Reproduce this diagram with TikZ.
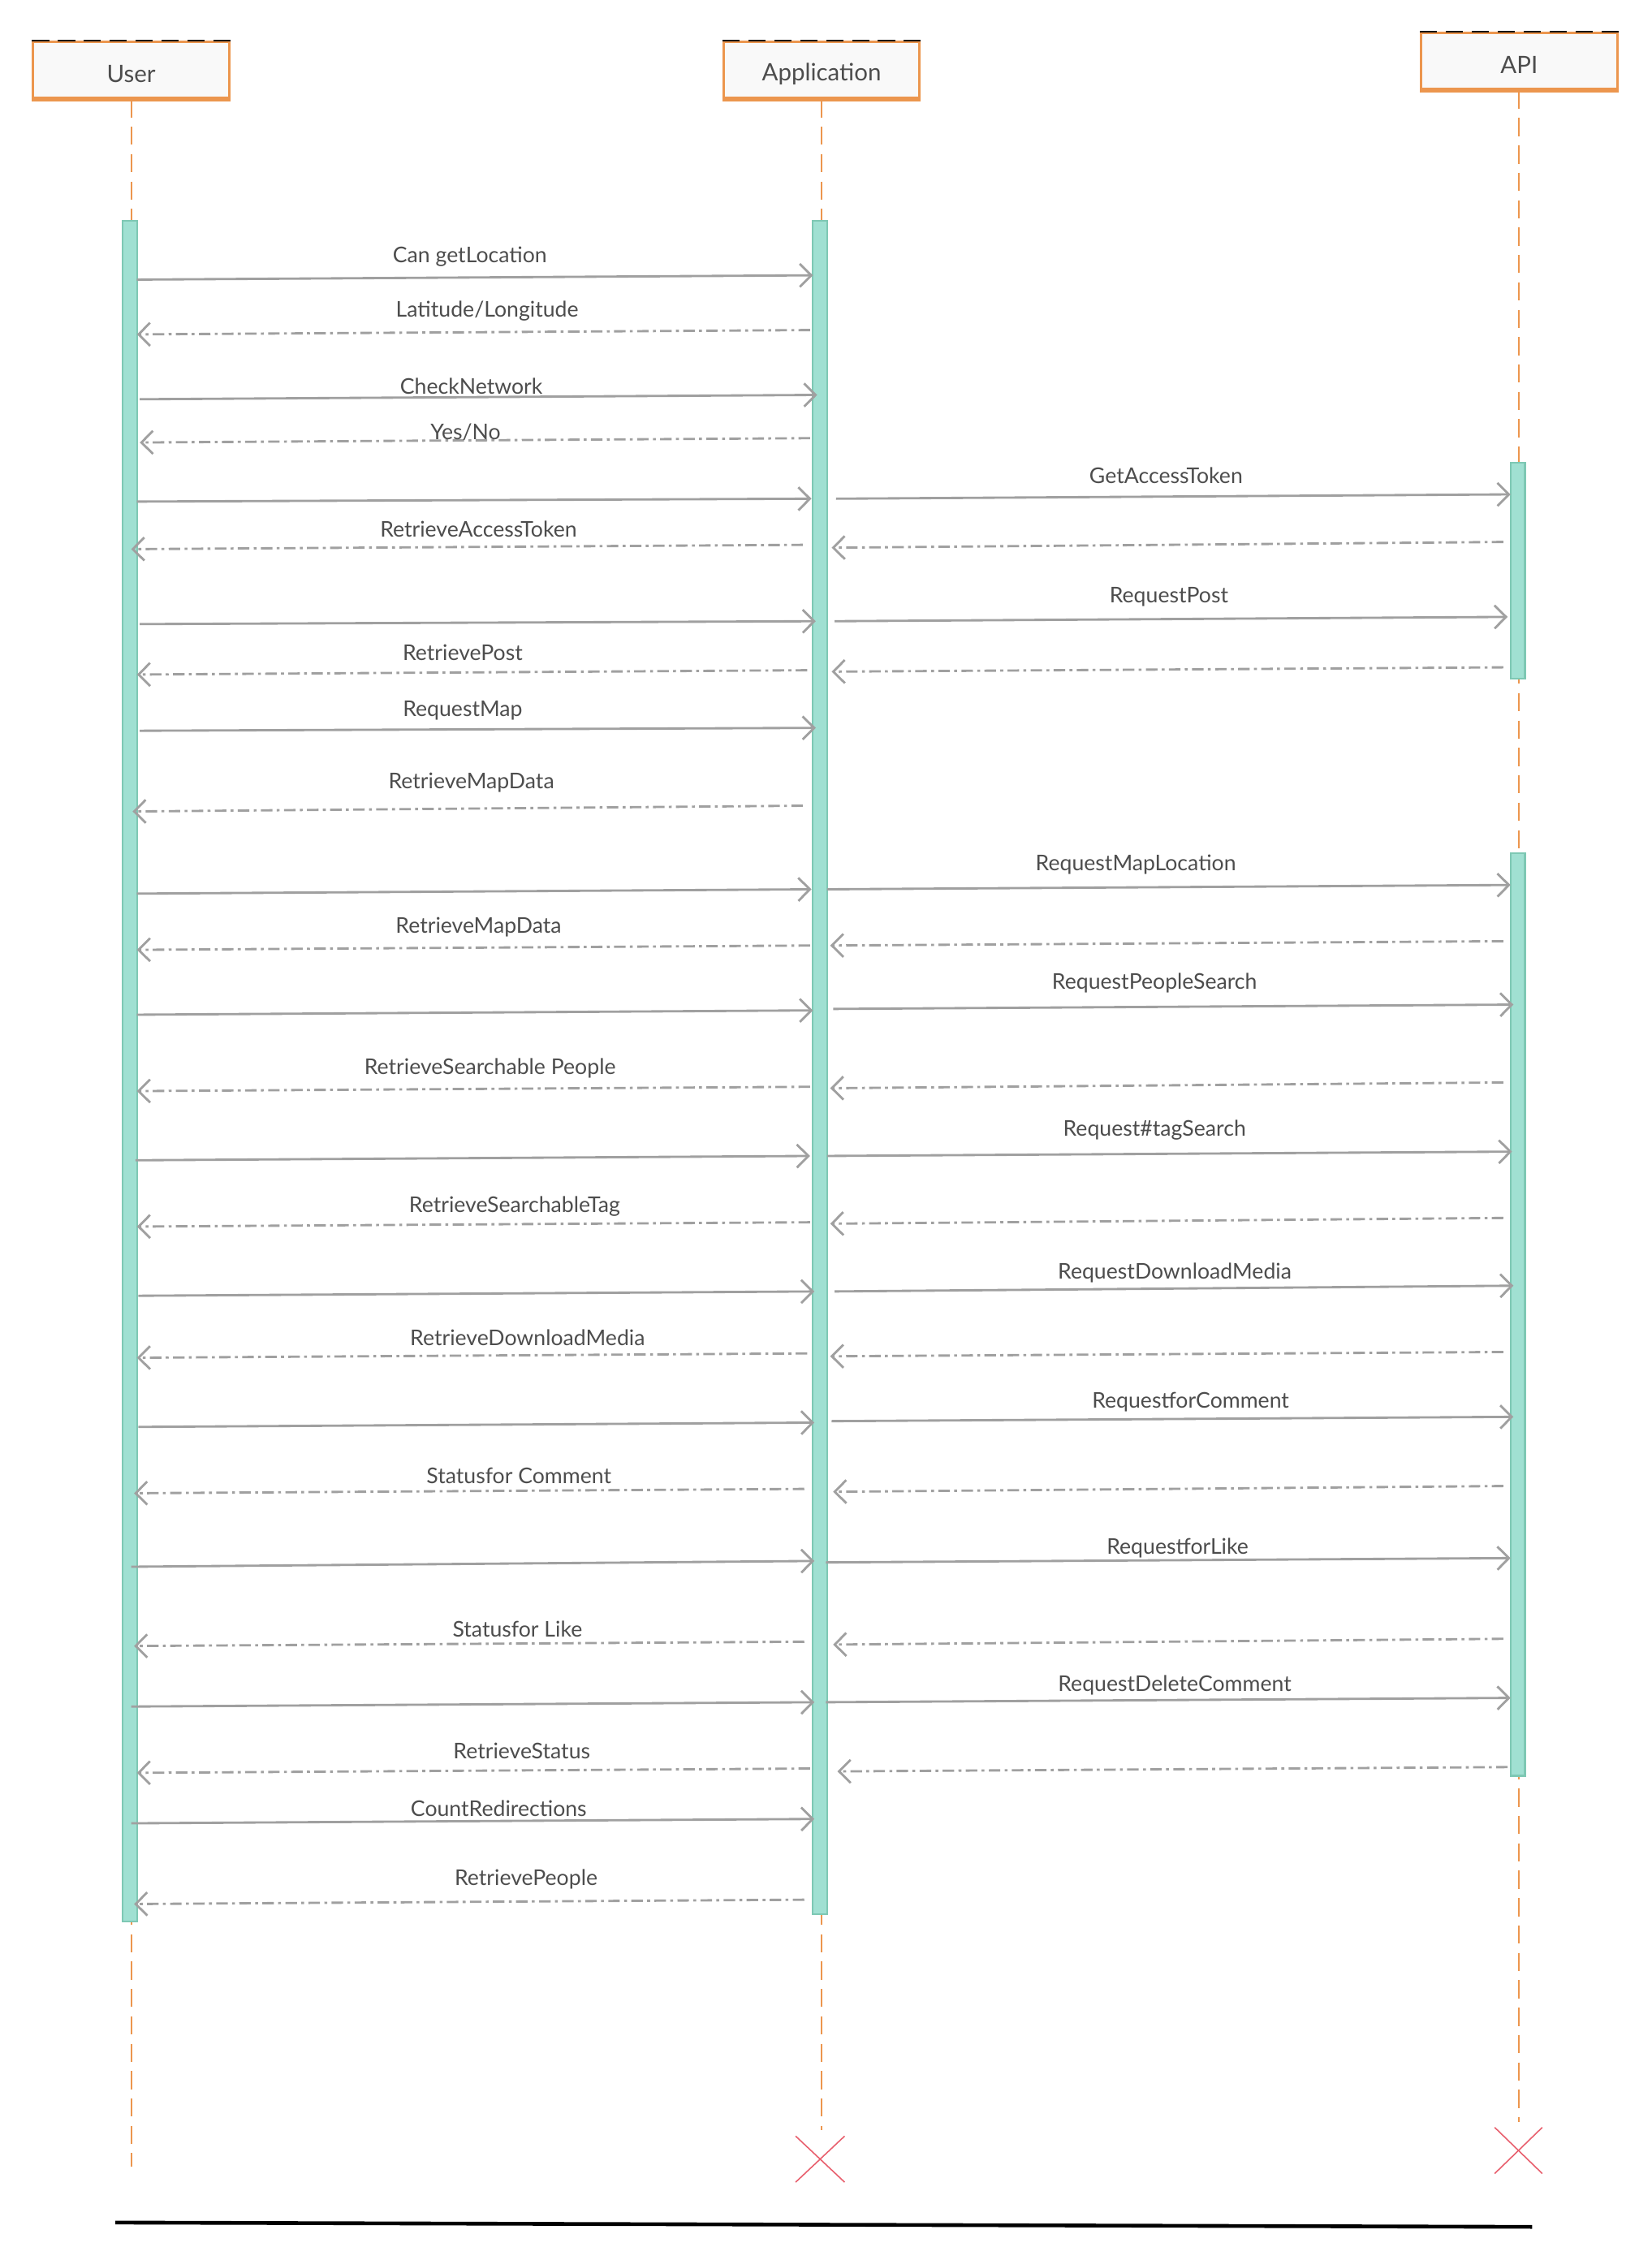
\documentclass[tikz,border=0pt]{standalone}
\usepackage{fontspec}
\setmainfont{Lato}
\usetikzlibrary{arrows.meta}
\definecolor{lifeor}{RGB}{236,150,78}
\definecolor{barfill}{RGB}{160,224,210}
\definecolor{barline}{RGB}{126,200,180}
\definecolor{msggray}{RGB}{160,160,160}
\definecolor{txtgray}{RGB}{77,77,77}
\definecolor{xred}{RGB}{232,96,110}
\definecolor{boxfill}{RGB}{249,249,249}
\newcommand{\seqmsg}[6]{\coordinate (#1s) at (#3,#4); \coordinate (#1e) at (#5,#6); \draw[#2] (#1s) -- (#1e);}
\newcommand{\actortext}[1]{\raisebox{-1.4pt}[\height][\depth]{#1}}
\begin{document}
\begin{tikzpicture}[x=0.5pt,y=-0.5pt,
 actor/.style={draw=lifeor, line width=0.9pt, fill=boxfill, minimum width=68pt, minimum height=19.5pt, inner sep=0pt, text=txtgray, font=\fontsize{8.3}{10}\selectfont},
 lifeline/.style={draw=lifeor, line width=0.6pt, dash pattern=on 6.3pt off 3.2pt},
 actbar/.style={fill=barfill, draw=barline, line width=0.6pt},
 callmsg/.style={draw=msggray, line width=0.8pt, -{Straight Barb[length=4pt,width=8pt]}},
 retmsg/.style={draw=msggray, line width=0.8pt, dash pattern=on 4pt off 1.5pt on 1pt off 1.5pt, -{Straight Barb[length=4pt,width=8pt]}},
 msglbl/.style={text=txtgray, font=\fontsize{7.5}{9}\selectfont, inner sep=0pt, yshift=-1pt},
 xmark/.style={draw=xred, line width=0.45pt},
 topdash/.style={draw=black, line width=0.6pt, dash pattern=on 6pt off 3pt},
 botedge/.style={draw=lifeor, line width=1.4pt},
]
\useasboundingbox (0,0) rectangle (1146,1568);

% actors
\node[actor] (uB) at (91,48.5) {\actortext{User}};
\node[actor] (aB) at (570,48.5) {\actortext{Application}};
\node[actor] (pB) at (1054,42.5) {\actortext{API}};
\foreach \b in {uB,aB,pB}{
  \draw[topdash] (\b.north west) -- (\b.north east);
  \draw[botedge] (\b.south west) -- (\b.south east);
}

% lifelines
\coordinate (uEnd) at (91,1503);
\coordinate (aEnd) at (570,1478);
\coordinate (pEnd) at (1054,1472);
\draw[lifeline] (uB.south) -- (uEnd);
\draw[lifeline] (aB.south) -- (aEnd);
\draw[lifeline] (pB.south) -- (pEnd);

% activation bars
\path[actbar] (85,153) rectangle (95,1333);
\path[actbar] (564,153) rectangle (574,1328);
\path[actbar] (1048,321) rectangle (1058,471);
\path[actbar] (1048,592) rectangle (1058,1232);

% messages
\seqmsg{m1}{callmsg}{95}{194}{564}{191}
\node[msglbl] (t1) at (326,176) {Can getLocation};
\seqmsg{m2}{retmsg}{562}{229}{95}{232}
\node[msglbl] (t2) at (338,214) {Latitude/Longitude};
\seqmsg{m3}{callmsg}{97}{277}{567}{274}
\node[msglbl] (t3) at (327,266) {CheckNetwork};
\seqmsg{m4}{retmsg}{562}{304}{97}{307}
\node[msglbl] (t4) at (323,298) {Yes/No};
\seqmsg{m5}{callmsg}{95}{348}{563}{346}
\seqmsg{m5b}{callmsg}{580}{346}{1048}{343}
\node[msglbl] (t5) at (809,328) {GetAccessToken};
\seqmsg{m6}{retmsg}{557}{378}{91}{381}
\node[msglbl] (t6) at (332,365) {RetrieveAccessToken};
\seqmsg{m6b}{retmsg}{1043}{376}{577}{380}
\seqmsg{m7}{callmsg}{97}{433}{566}{431}
\seqmsg{m7b}{callmsg}{579}{431}{1046}{428}
\node[msglbl] (t7) at (811,412) {RequestPost};
\seqmsg{m8}{retmsg}{560}{465}{95}{468}
\node[msglbl] (t8) at (321,451) {RetrievePost};
\seqmsg{m8b}{retmsg}{1043}{463}{577}{466}
\seqmsg{m9}{callmsg}{97}{507}{566}{505}
\node[msglbl] (t9) at (321,491) {RequestMap};
\seqmsg{m10}{retmsg}{557}{559}{92}{563}
\node[msglbl] (t10) at (327,541) {RetrieveMapData};
\seqmsg{m11}{callmsg}{95}{620}{563}{617}
\seqmsg{m11b}{callmsg}{574}{617}{1048}{614}
\node[msglbl] (t11) at (788,598) {RequestMapLocation};
\seqmsg{m12}{retmsg}{562}{656}{95}{659}
\node[msglbl] (t12) at (332,641) {RetrieveMapData};
\seqmsg{m12b}{retmsg}{1043}{653}{576}{656}
\seqmsg{m13}{callmsg}{95}{704}{564}{701}
\seqmsg{m13b}{callmsg}{578}{700}{1050}{697}
\node[msglbl] (t13) at (801,680) {RequestPeopleSearch};
\seqmsg{m14}{retmsg}{562}{754}{95}{757}
\node[msglbl] (t14) at (340,739) {RetrieveSearchable People};
\seqmsg{m14b}{retmsg}{1043}{751}{576}{755}
\seqmsg{m15}{callmsg}{94}{805}{562}{802}
\seqmsg{m15b}{callmsg}{574}{802}{1049}{799}
\node[msglbl] (t15) at (801,782) {Request\#tagSearch};
\seqmsg{m16}{retmsg}{562}{848}{95}{851}
\node[msglbl] (t16) at (357,835) {RetrieveSearchableTag};
\seqmsg{m16b}{retmsg}{1043}{845}{576}{849}
\seqmsg{m17}{callmsg}{96}{899}{565}{896}
\seqmsg{m17b}{callmsg}{579}{896}{1050}{892}
\node[msglbl] (t17) at (815,881) {RequestDownloadMedia};
\seqmsg{m18}{retmsg}{560}{939}{95}{942}
\node[msglbl] (t18) at (366,926) {RetrieveDownloadMedia};
\seqmsg{m18b}{retmsg}{1043}{938}{576}{941}
\seqmsg{m19}{callmsg}{96}{990}{565}{987}
\seqmsg{m19b}{callmsg}{577}{986}{1050}{983}
\node[msglbl] (t19) at (826,971) {RequestforComment};
\seqmsg{m20}{retmsg}{558}{1033}{93}{1036}
\node[msglbl] (t20) at (360,1022) {Statusfor Comment};
\seqmsg{m20b}{retmsg}{1043}{1031}{578}{1035}
\seqmsg{m21}{callmsg}{91}{1087}{565}{1083}
\seqmsg{m21b}{callmsg}{573}{1084}{1048}{1081}
\node[msglbl] (t21) at (817,1072) {RequestforLike};
\seqmsg{m22}{retmsg}{558}{1139}{93}{1142}
\node[msglbl] (t22) at (359,1128) {Statusfor Like};
\seqmsg{m22b}{retmsg}{1043}{1137}{578}{1141}
\seqmsg{m23}{callmsg}{91}{1184}{565}{1181}
\seqmsg{m23b}{callmsg}{573}{1181}{1048}{1178}
\node[msglbl] (t23) at (815,1167) {RequestDeleteComment};
\seqmsg{m24}{retmsg}{562}{1227}{95}{1230}
\node[msglbl] (t24) at (362,1213) {RetrieveStatus};
\seqmsg{m24b}{retmsg}{1046}{1226}{581}{1229}
\seqmsg{m25}{callmsg}{91}{1265}{565}{1262}
\node[msglbl] (t25) at (346,1253) {CountRedirections};
\seqmsg{m26}{retmsg}{558}{1318}{93}{1321}
\node[msglbl] (t26) at (365,1302) {RetrievePeople};

% destruction marks
\draw[xmark] (552,1482) -- (586,1514);
\draw[xmark] (552,1514) -- (586,1482);
\draw[xmark] (1037,1476) -- (1070,1508);
\draw[xmark] (1037,1508) -- (1070,1476);

% bottom rule
\coordinate (rl) at (80,1542);
\coordinate (rr) at (1063,1545);
\draw[black, line width=1.3pt] (rl) -- (rr);
\end{tikzpicture}
\end{document}
